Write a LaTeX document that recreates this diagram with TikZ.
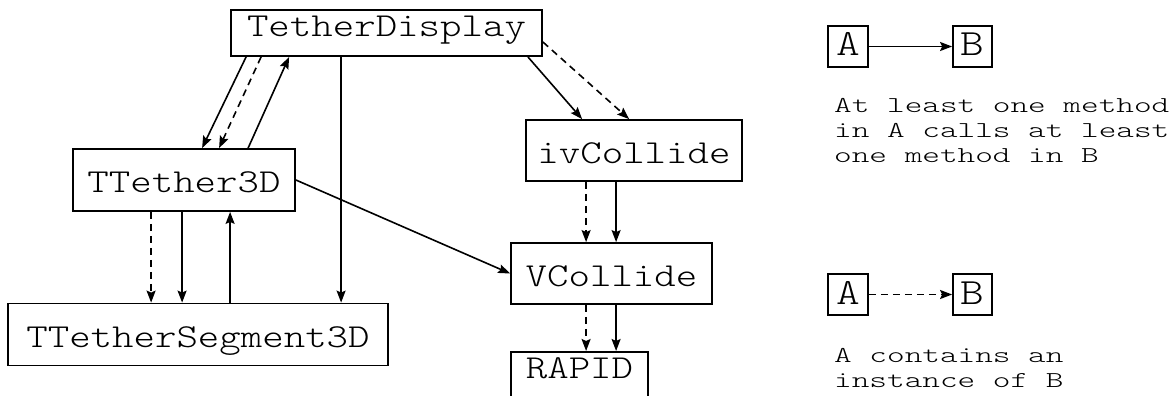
\documentclass[tikz,border=0pt]{standalone}
\usepackage{fontspec}
\usepackage{tikz}
\usetikzlibrary{arrows.meta}
\newfontfamily\boxfont{lmmonolt10-regular}[Extension=.otf,FakeStretch=1.22]
\newfontfamily\notefont{lmmonolt10-regular}[Extension=.otf,FakeStretch=1.48]
\tikzset{
  clsbox/.style={draw=black,line width=1.8pt,inner sep=0pt,minimum height=61pt,
    font=\boxfont\fontsize{33.5}{36}\selectfont,text height=25.5pt,text depth=0pt},
  keybox/.style={clsbox,minimum width=40pt,minimum height=41pt,
    font=\boxfont\fontsize{37}{40}\selectfont,text height=19pt},
  notetext/.style={inner sep=0pt,align=left,anchor=north west,
    font=\notefont\fontsize{22.7}{25}\selectfont},
  callarrow/.style={-{Stealth[length=12pt,width=9pt,inset=2pt]},line width=1.6pt},
  ownarrow/.style={callarrow,dash pattern=on 7pt off 5pt},
}

\begin{document}
\begin{tikzpicture}[x=1pt,y=-1pt]
  \useasboundingbox (0,0) rectangle (1171,396);
  \clip (0,0) rectangle (1171,396);
  % classes
  \node[clsbox,minimum width=311pt,minimum height=46pt,text height=8pt] (td) at (386.5,33) {TetherDisplay};
  \node[clsbox,minimum width=222pt,minimum height=62pt] (tt) at (184,180) {TTether3D};
  \node[clsbox,minimum width=380pt,minimum height=62pt] (tseg) at (198,334.5) {TTetherSegment3D};
  \node[clsbox,minimum width=216pt] (ivc) at (634,150.5) {ivCollide};
  \node[clsbox,minimum width=201pt] (vc) at (611.5,273.5) {VCollide};
  \node[clsbox,anchor=north,minimum width=137pt,minimum height=0pt,text height=27pt,text depth=60pt] (rapid) at (579.5,351) {RAPID};

  % calls and instances
  \draw[callarrow] ([xshift=16pt]td.south west) -- ([xshift=130pt]tt.north west);
  \draw[ownarrow] ([xshift=31pt]td.south west) -- ([xshift=147pt]tt.north west);
  \draw[callarrow] ([xshift=176pt]tt.north west) -- ([xshift=59pt]td.south west);
  \draw[callarrow] ([xshift=111pt]td.south west) -- ([xshift=111pt]td.south west |- tseg.north);
  \draw[ownarrow] ([xshift=79pt]tt.south west) -- ([xshift=79pt]tt.south west |- tseg.north);
  \draw[callarrow] ([xshift=110pt]tt.south west) -- ([xshift=110pt]tt.south west |- tseg.north);
  \draw[callarrow] ([xshift=158pt]tt.south west |- tseg.north) -- ([xshift=158pt]tt.south west);
  \draw[callarrow] (tt.east) -- (vc.west);
  \draw[callarrow] ([xshift=-15pt]td.south east) -- ([xshift=57pt]ivc.north west);
  \draw[ownarrow] ([yshift=-9pt]td.east) -- ([xshift=104pt]ivc.north west);
  \draw[ownarrow] ([xshift=61pt]ivc.south west) -- ([xshift=61pt]ivc.south west |- vc.north);
  \draw[callarrow] ([xshift=91pt]ivc.south west) -- ([xshift=91pt]ivc.south west |- vc.north);
  \draw[ownarrow] ([xshift=76pt]vc.south west) -- ([xshift=76pt]vc.south west |- rapid.north);
  \draw[callarrow] ([xshift=106pt]vc.south west) -- ([xshift=106pt]vc.south west |- rapid.north);

  % key
  \node[keybox] (calla) at (848,46.5) {A};
  \node[keybox,minimum width=39pt] (callb) at (972.5,46.5) {B};
  \draw[callarrow] (calla) -- (callb);
  \node[notetext] (callnote) at (834,98) {At least one method\\in A calls at least\\one method in B};
  \node[keybox] (owna) at (848,294.5) {A};
  \node[keybox,minimum width=39pt] (ownb) at (972.5,294.5) {B};
  \draw[ownarrow] (owna) -- (ownb);
  \node[notetext] (ownnote) at (834,348) {A contains an\\instance of B};
\end{tikzpicture}
\end{document}
